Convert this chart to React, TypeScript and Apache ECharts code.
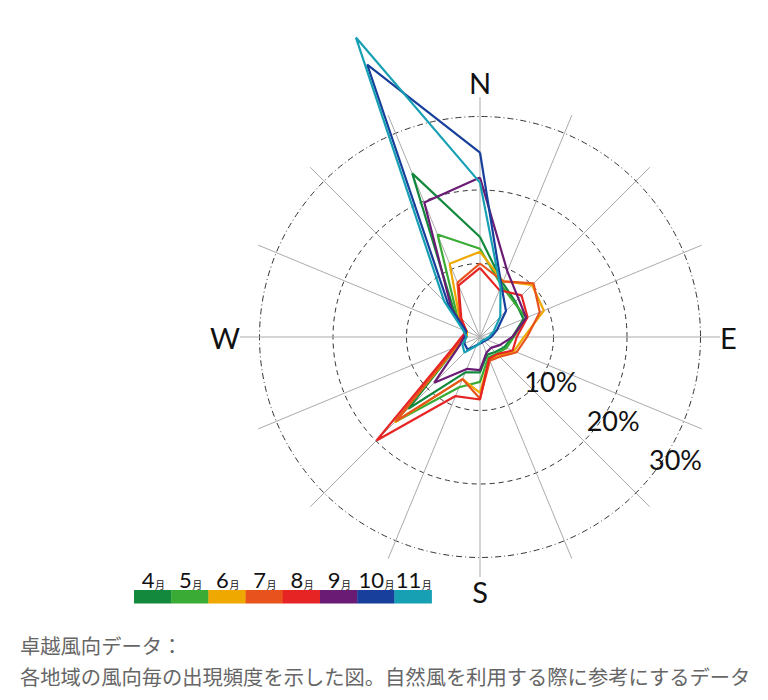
import React, { useEffect, useRef } from 'react';
import * as echarts from 'echarts';

// 16 wind directions, clockwise from north
const DIRECTIONS = ['N', 'NNE', 'NE', 'ENE', 'E', 'ESE', 'SE', 'SSE', 'S', 'SSW', 'SW', 'WSW', 'W', 'WNW', 'NW', 'NNW'];
const COMPASS_LABELS = ['N', 'E', 'S', 'W'];
const RING_TICKS = [10, 20, 30];
const RING_LABELS = ['10%', '20%', '30%'];
const MONTH_NUMBERS = ['4', '5', '6', '7', '8', '9', '10', '11'];
const MONTH_SUFFIX = '月';
const MONTH_COLORS = ['#13893d', '#3aab34', '#efa800', '#e8521c', '#e62424', '#6a1b74', '#173f9b', '#17a0b4'];

// frequency (%) per direction, order as DIRECTIONS
const APR = [13.6, 8.0, 6.8, 6.4, 4.4, 3.6, 2.9, 2.6, 4.8, 5.2, 13.8, 3.4, 2.1, 2.3, 5.0, 24.1];
const MAY = [12.0, 7.6, 6.6, 6.8, 4.6, 3.9, 3.2, 3.0, 6.1, 7.4, 16.3, 3.5, 2.0, 2.2, 4.5, 15.1];
const JUN = [11.6, 8.2, 10.0, 9.4, 6.0, 5.0, 3.6, 3.3, 7.6, 6.2, 16.4, 3.4, 1.8, 1.9, 4.0, 10.8];
const JUL = [10.0, 8.2, 10.3, 8.8, 6.4, 5.4, 3.8, 3.5, 8.4, 6.2, 16.2, 3.6, 2.3, 2.0, 3.8, 8.0];
const AUG = [9.4, 6.9, 8.0, 7.0, 5.0, 4.8, 3.3, 3.2, 8.5, 8.7, 19.9, 4.0, 2.5, 2.0, 3.6, 7.6];
const SEP = [21.7, 9.7, 7.4, 6.8, 4.4, 2.9, 2.1, 2.3, 4.5, 4.7, 8.8, 3.0, 2.2, 2.0, 5.5, 19.8];
const OCT = [25.1, 7.6, 5.0, 2.5, 1.5, 1.0, 0.8, 0.8, 0.9, 1.2, 2.4, 2.3, 2.0, 2.1, 6.0, 40.1];
const NOV = [21.0, 7.3, 3.9, 2.0, 1.2, 0.8, 0.6, 0.6, 0.8, 1.3, 3.0, 2.6, 1.8, 2.5, 6.9, 44.1];
const MONTH_DATA = [APR, MAY, JUN, JUL, AUG, SEP, OCT, NOV];

const CAPTION_TITLE = '卓越風向データ：';
const CAPTION_TEXT = '各地域の風向毎の出現頻度を示した図。自然風を利用する際に参考にするデータ';

export default function App() {
  const ref = useRef<HTMLDivElement>(null);

  useEffect(() => {
    const el = ref.current;
    if (!el) return;
    const chart = echarts.init(el, null, { renderer: 'svg' });

    const CX = 480;
    const CY = 337;
    const R30 = 220.5; // pixel radius of the 30% ring
    const SPOKE_R = 240;
    const RING_MAX = 30;
    const DATA_MAX = 45; // data polar extends further so long spikes are not clipped
    const R_DATA = (DATA_MAX / RING_MAX) * R30;
    const step = 360 / DIRECTIONS.length;
    const transparent = 'rgba(0,0,0,0)';
    const labelFont = 'Lato, "Open Sans", sans-serif';

    const hiddenAngle = (polarIndex: number) => ({
      polarIndex, type: 'value', min: 0, max: 360, interval: step, startAngle: 90, clockwise: true,
      axisLine: { show: false }, axisTick: { show: false }, axisLabel: { show: false }, splitLine: { show: false },
    });

    const series = MONTH_DATA.map((vals, k) => ({
      type: 'line',
      name: MONTH_NUMBERS[k] + MONTH_SUFFIX,
      coordinateSystem: 'polar',
      polarIndex: 1,
      data: [...vals.map((v, i) => [v, i * step]), [vals[0], 360]],
      symbol: 'none',
      clip: false,
      smooth: false,
      lineStyle: { color: MONTH_COLORS[k], width: 2.2 },
      itemStyle: { color: MONTH_COLORS[k] },
      z: 3 + k,
      silent: true,
    }));

    const graphics: any[] = [];
    // ring labels along a ray 32° below east
    const labelAngle = (32 * Math.PI) / 180;
    RING_TICKS.forEach((t, i) => {
      const r = (t / RING_MAX) * R30 + 10;
      graphics.push({
        type: 'text',
        x: CX + r * Math.cos(labelAngle),
        y: CY + r * Math.sin(labelAngle),
        z: 20,
        style: {
          text: RING_LABELS[i], fill: '#111', font: `400 27px ${labelFont}`,
          align: 'center', verticalAlign: 'middle', textAlign: 'center', textVerticalAlign: 'middle',
        },
      });
    });

    // colour-bar legend
    const legX = 134;
    const legW = 37.2;
    const legY = 590;
    const digitFont = 22;
    const digitW = 0.58 * digitFont; // approx advance of one digit
    const suffixW = 9;
    MONTH_NUMBERS.forEach((m, k) => {
      graphics.push({
        type: 'rect',
        shape: { x: legX + k * legW, y: legY, width: legW + 0.3, height: 13.5 },
        style: { fill: MONTH_COLORS[k] },
      });
      const total = m.length * digitW + suffixW;
      const start = legX + k * legW + legW / 2 - total / 2;
      graphics.push({
        type: 'text',
        x: start,
        y: 579,
        style: {
          text: m, fill: '#111', font: `400 ${digitFont}px ${labelFont}`,
          align: 'left', verticalAlign: 'middle', textAlign: 'left', textVerticalAlign: 'middle',
        },
      });
      graphics.push({
        type: 'text',
        x: start + m.length * digitW + 0.5,
        y: 584.3,
        style: {
          text: MONTH_SUFFIX, fill: '#111', font: '10px "Noto Sans CJK JP", sans-serif',
          align: 'left', verticalAlign: 'middle', textAlign: 'left', textVerticalAlign: 'middle',
        },
      });
    });

    // caption
    graphics.push({
      type: 'text', x: 20, y: 645,
      style: { text: CAPTION_TITLE, fill: '#666', font: '20.3px "Noto Sans CJK JP", sans-serif', verticalAlign: 'middle', textVerticalAlign: 'middle' },
    });
    graphics.push({
      type: 'text', x: 20, y: 676,
      style: { text: CAPTION_TEXT, fill: '#666', font: '20.3px "Noto Sans CJK JP", sans-serif', verticalAlign: 'middle', textVerticalAlign: 'middle' },
    });

    const option: any = {
      animation: false,
      backgroundColor: '#ffffff',
      polar: [
        { center: [CX, CY], radius: SPOKE_R },
        { center: [CX, CY], radius: R_DATA },
        { center: [CX, CY], radius: R_DATA },
      ],
      angleAxis: [
        {
          polarIndex: 0, type: 'value', min: 0, max: 360, interval: step, startAngle: 90, clockwise: true,
          axisLine: { show: false }, axisTick: { show: false },
          splitLine: { show: true, lineStyle: { color: '#ababab', width: 1 } },
          axisLabel: {
            show: true, margin: 0, fontSize: 29, color: '#111', fontFamily: labelFont, fontWeight: 400,
            formatter: (v: number) => {
              if (v >= 360) return '';
              const name = DIRECTIONS[Math.round(v / step) % DIRECTIONS.length];
              return COMPASS_LABELS.includes(name) ? name : '';
            },
          },
        },
        hiddenAngle(1),
        hiddenAngle(2),
      ],
      radiusAxis: [
        {
          polarIndex: 0, min: 0, max: 1,
          axisLine: { show: false }, axisTick: { show: false }, axisLabel: { show: false }, splitLine: { show: false },
        },
        {
          polarIndex: 1, min: 0, max: DATA_MAX, interval: 10,
          axisLine: { show: false }, axisTick: { show: false }, axisLabel: { show: false },
          splitLine: { show: true, lineStyle: { color: [transparent, '#333', '#333', transparent, transparent, transparent], width: 1, type: [5, 4] } },
        },
        {
          polarIndex: 2, min: 0, max: DATA_MAX, interval: 10,
          axisLine: { show: false }, axisTick: { show: false }, axisLabel: { show: false },
          splitLine: { show: true, lineStyle: { color: [transparent, transparent, transparent, '#333', transparent, transparent], width: 1, type: [6, 3, 1, 3] } },
        },
      ],
      series,
      graphic: graphics,
    };

    chart.setOption(option);
    return () => chart.dispose();
  }, []);

  return <div ref={ref} style={{ position: 'absolute', left: 0, top: 0, width: 768, height: 700 }} />;
}
